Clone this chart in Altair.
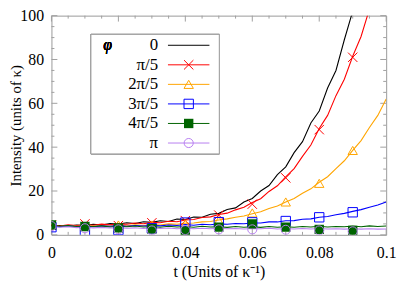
import altair as alt
import pandas as pd

W, H = 339, 222
FONT = "Liberation Serif, Times New Roman, serif"

# ---- data ----
names = ["0", "π/5", "2π/5", "3π/5", "4π/5", "π"]
colors = ["#000000", "#ff0000", "#ffa500", "#0000ff", "#006400", "#b77ff0"]
shapes = [None, "M-1,-1L1,1M-1,1L1,-1", "triangle-up", "square", "square", "circle"]
filled = [False, False, False, False, True, False]

t_line = [round(i * 0.0025, 4) for i in range(41)]
black = [4.0, 4.3, 3.9, 4.5, 4.3, 4.8, 4.5, 5.1, 4.9, 5.5, 5.2, 6.0, 5.7, 6.4, 6.1, 7.2, 7.0,
         8.1, 8.0, 9.4, 9.8, 11.6, 12.3, 15.0, 16.6, 20.0, 22.5, 27.5, 31.0, 37.5, 42.5, 51.0,
         56.5, 67.0, 75.0, 89.0, 102.0, 118.0, 135.0, 155.0, 175.0]
red = [4.2, 4.0, 4.6, 4.3, 4.7, 4.4, 4.9, 4.6, 5.0, 4.8, 5.4, 5.1, 5.7, 5.5, 6.2, 6.0, 6.8,
       7.0, 7.9, 8.2, 9.3, 9.9, 11.4, 12.6, 14.8, 16.5, 19.8, 22.4, 26.5, 30.2, 35.8, 41.0,
       48.5, 54.5, 63.5, 71.0, 81.5, 90.5, 103.0, 115.0, 130.0]
orange = [4.1, 3.8, 4.2, 3.9, 4.2, 3.9, 4.3, 4.0, 4.4, 4.1, 4.6, 4.3, 4.7, 4.5, 5.0, 4.8, 5.3,
          5.4, 5.9, 6.1, 6.8, 7.3, 8.0, 8.6, 9.6, 10.5, 12.0, 13.2, 15.0, 16.6, 19.0, 21.0,
          24.0, 26.5, 30.2, 33.8, 38.5, 43.0, 49.0, 54.5, 62.0]
blue = [4.0, 3.7, 4.1, 3.8, 4.0, 3.7, 4.1, 3.9, 4.2, 3.9, 4.3, 4.0, 4.4, 4.1, 4.5, 4.3, 4.7,
        4.4, 4.8, 4.6, 5.0, 4.8, 5.2, 5.1, 5.4, 5.4, 5.9, 5.9, 6.4, 6.5, 7.1, 7.3, 8.0, 8.4,
        9.2, 9.8, 10.7, 11.5, 12.6, 13.6, 15.0]
green = [4.3, 3.9, 4.2, 3.7, 4.0, 3.8, 4.1, 3.6, 3.9, 3.7, 4.0, 3.6, 3.8, 3.5, 3.9, 3.6, 3.8,
         3.5, 3.9, 3.6, 3.7, 3.4, 3.8, 3.5, 3.7, 3.4, 3.8, 3.5, 3.7, 3.5, 3.8, 3.6, 3.9, 3.6,
         3.8, 3.7, 4.0, 3.7, 4.1, 3.8, 4.0]
purple = [3.8, 3.5, 3.7, 3.3, 3.5, 3.2, 3.4, 3.1, 3.3, 3.0, 3.2, 2.9, 3.1, 2.9, 3.1, 2.8, 3.0,
          2.8, 3.0, 2.8, 3.0, 2.8, 2.9, 2.7, 2.9, 2.8, 3.0, 2.7, 2.9, 2.7, 2.9, 2.7, 2.9, 2.7,
          2.8, 2.6, 2.8, 2.6, 2.8, 2.6, 2.7]
lines = [black, red, orange, blue, green, purple]

t_mark = [0, 0.01, 0.02, 0.03, 0.04, 0.05, 0.06, 0.07, 0.08, 0.09]
red_m = [4.5, 5.0, 4.2, 5.5, 6.5, 9.0, 14.0, 26.0, 48.0, 81.0]
orange_m = [4.5, 4.0, 4.5, 4.5, 5.0, 6.5, 10.0, 15.0, 23.5, 38.5]
blue_m = [3.5, 1.8, 2.2, 3.0, 5.6, 5.8, 5.7, 6.3, 8.0, 10.3]
green_m = [4.5, 3.8, 3.2, 2.8, 1.5, 3.5, 5.0, 3.5, 2.5, 2.0]
purple_m = [4.0, 3.0, 2.5, 2.0, 2.2, 2.5, 2.5, 2.3, 2.0, 1.6]
markers = [None, red_m, orange_m, blue_m, green_m, purple_m]

x_major = [0, 0.02, 0.04, 0.06, 0.08, 0.1]
x_minor = [0.005, 0.01, 0.015, 0.025, 0.03, 0.035, 0.045, 0.05, 0.055,
           0.065, 0.07, 0.075, 0.085, 0.09, 0.095]
y_major = [0, 20, 40, 60, 80, 100]
y_minor = [5, 10, 15, 25, 30, 35, 45, 50, 55, 65, 70, 75, 85, 90, 95]

# ---- scales & axes ----
xs = alt.Scale(domain=[0, 0.1], nice=False, zero=False)
ys = alt.Scale(domain=[0, 100], nice=False)
x_axis = alt.Axis(values=x_major, format="~g", ticks=False, domain=False, grid=False,
                  labelFont=FONT, labelFontSize=16, labelPadding=10, labelFlush=False,
                  labelOverlap=False, labelColor="#000",
                  title="t (Units of κ⁻¹)", titleFont=FONT, titleFontSize=16,
                  titleFontWeight="normal", titlePadding=3, titleColor="#000")
y_axis = alt.Axis(values=y_major, ticks=False, domain=False, grid=False,
                  labelFont=FONT, labelFontSize=16, labelPadding=8, labelFlush=False,
                  labelOverlap=False, labelColor="#000",
                  title="Intensity (units of κ)", titleFont=FONT, titleFontSize=15,
                  titleFontWeight="normal", titleColor="#000",
                  titleAngle=270, titleBaseline="middle", titleAlign="center", titleX=-36)

X = alt.X("t:Q", scale=xs, axis=x_axis)
Y = alt.Y("v:Q", scale=ys, axis=y_axis)

TICK = "#a0a0a0"
layers = []
# ticks (inside the frame, all four sides)
for vals, ln in ((x_major, 6), (x_minor, 3)):
    d = pd.DataFrame({"t": vals})
    layers.append(alt.Chart(d).mark_rule(color=TICK, strokeWidth=1).encode(
        x=X, y=alt.value(H), y2=alt.value(H - ln)))
    layers.append(alt.Chart(d).mark_rule(color=TICK, strokeWidth=1).encode(
        x=X, y=alt.value(0), y2=alt.value(ln)))
for vals, ln in ((y_major, 6), (y_minor, 3)):
    d = pd.DataFrame({"v": vals})
    layers.append(alt.Chart(d).mark_rule(color=TICK, strokeWidth=1).encode(
        y=Y, x=alt.value(0), x2=alt.value(ln)))
    layers.append(alt.Chart(d).mark_rule(color=TICK, strokeWidth=1).encode(
        y=Y, x=alt.value(W), x2=alt.value(W - ln)))

for i in range(len(names)):
    d = pd.DataFrame({"t": t_line, "v": lines[i]})
    layers.append(alt.Chart(d).mark_line(color=colors[i], strokeWidth=1.1, clip=True)
                  .encode(x=X, y=Y))
for i in range(len(names)):
    if markers[i] is None:
        continue
    d = pd.DataFrame({"t": t_mark, "v": markers[i]})
    size = 90 if shapes[i] != "circle" else 85
    layers.append(alt.Chart(d).mark_point(shape=shapes[i], filled=filled[i], color=colors[i],
                                          size=size, strokeWidth=1, opacity=1, clip=True)
                  .encode(x=X, y=Y))

data_layer = alt.layer(*layers)

# ---- legend (drawn as its own layer) ----
ld = pd.DataFrame({"label": names, "color": colors})
LY = alt.Y("label:N", scale=alt.Scale(type="point", domain=names, range=[30, 129], padding=0),
           axis=None)
leg = [
    alt.Chart(ld).mark_rect(fill="white", stroke="#a0a0a0", strokeWidth=1).encode(
        x=alt.value(40), x2=alt.value(170), y=alt.value(19), y2=alt.value(140)),
    alt.Chart(ld).mark_text(text="φ", font=FONT, fontSize=16, fontStyle="italic",
                            fontWeight="normal", align="center", baseline="middle").encode(
        x=alt.value(57), y=alt.value(30)),
    alt.Chart(ld).mark_text(font=FONT, fontSize=17, align="right", baseline="middle").encode(
        x=alt.value(108), y=LY, text="label:N"),
    alt.Chart(ld).mark_rule(strokeWidth=1).encode(
        x=alt.value(118), x2=alt.value(160), y=LY,
        color=alt.Color("label:N", scale=alt.Scale(domain=names, range=colors), legend=None)),
]
for i in range(len(names)):
    if shapes[i] is None:
        continue
    di = pd.DataFrame({"label": [names[i]]})
    size = 90 if shapes[i] != "circle" else 85
    leg.append(alt.Chart(di).mark_point(shape=shapes[i], filled=filled[i], color=colors[i],
                                        size=size, strokeWidth=1, opacity=1).encode(
        x=alt.value(139), y=LY))
legend_layer = alt.layer(*leg)

chart = alt.layer(data_layer, legend_layer).resolve_scale(
    x="independent", y="independent", color="independent"
).properties(
    width=W, height=H,
    autosize=alt.AutoSizeParams(type="none"),
    padding={"left": 44, "top": 6, "right": 14, "bottom": 45},
).configure_view(stroke="#999999", strokeWidth=1)

chart.save("out.html", embed_options={"renderer": "svg", "actions": False})
